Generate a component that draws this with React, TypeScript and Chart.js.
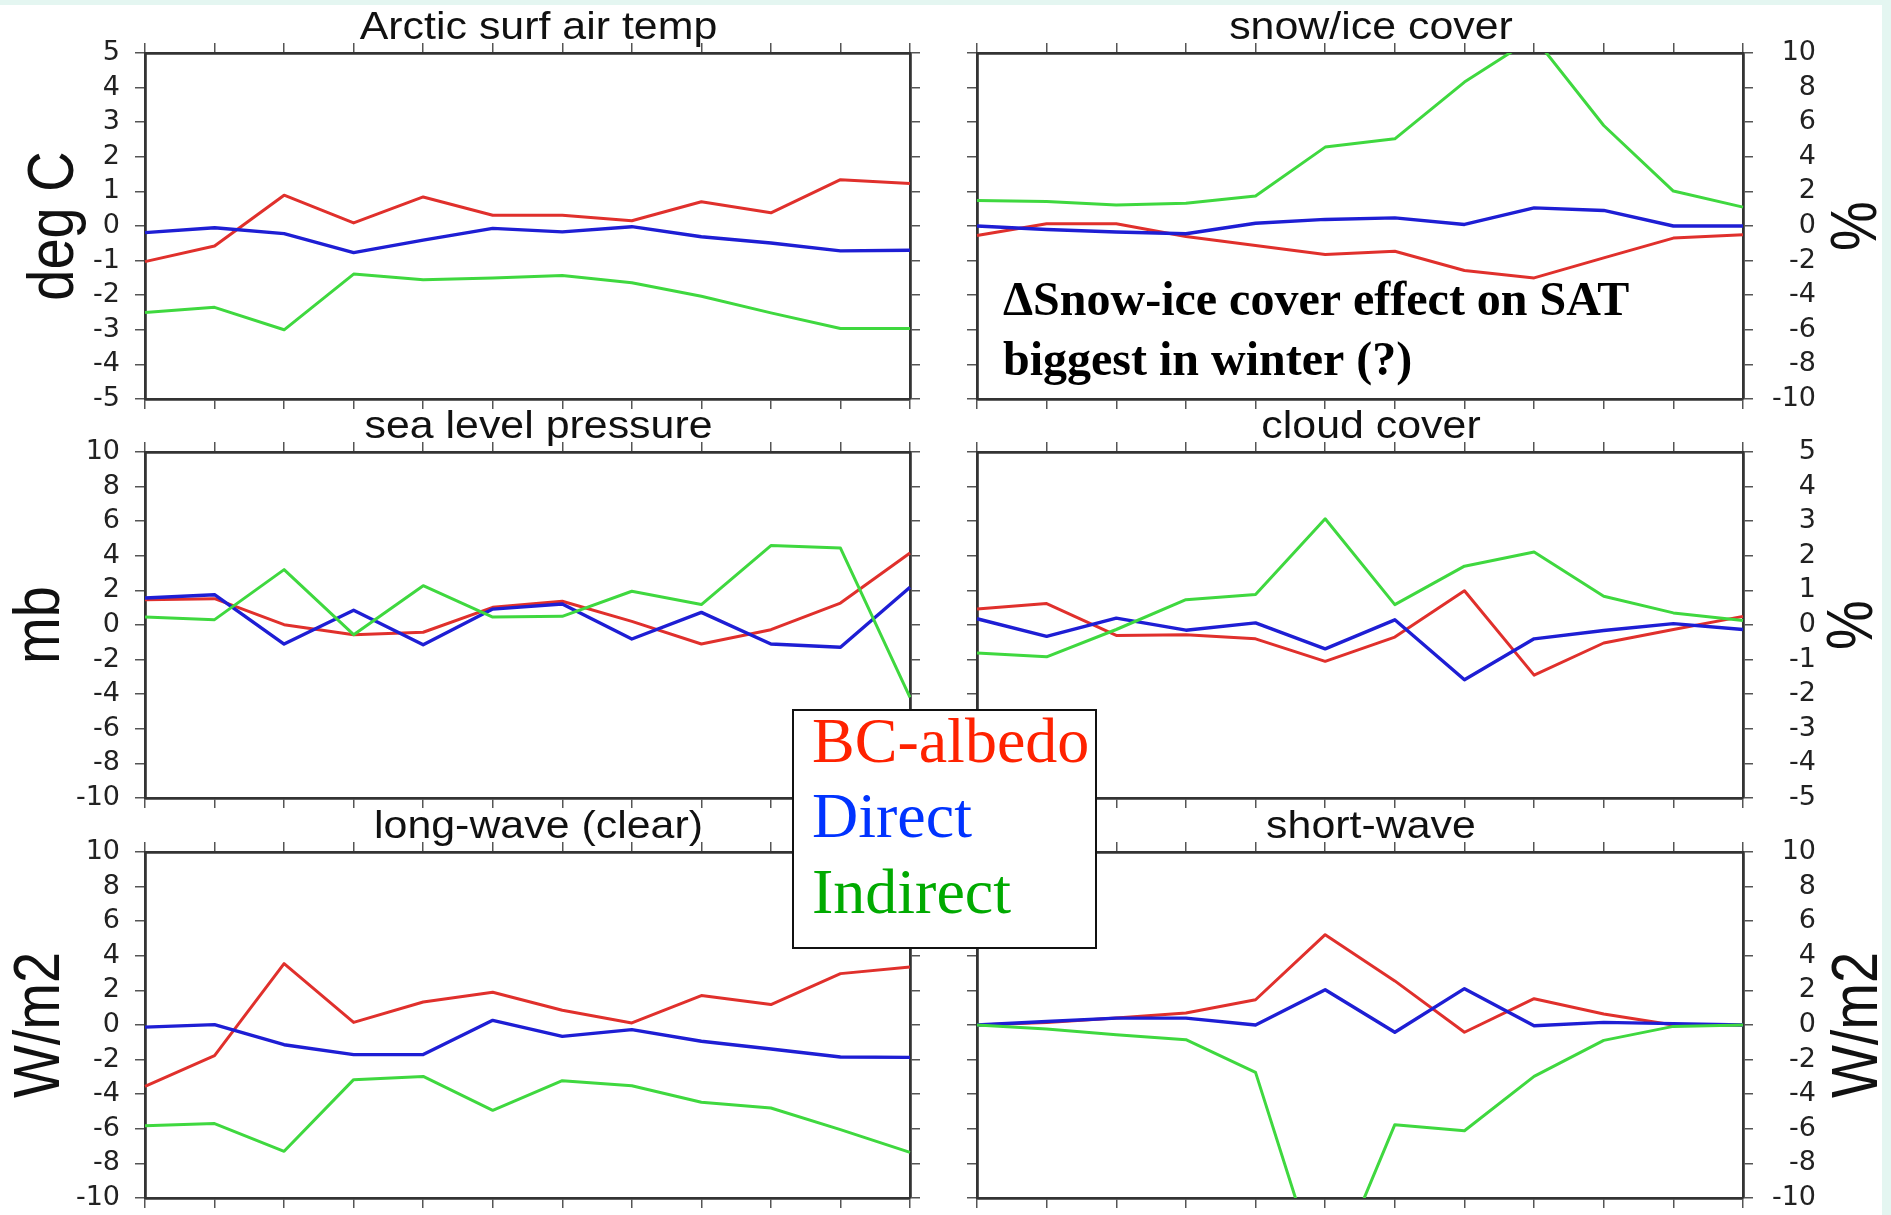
import React, { useEffect, useRef } from 'react';
import { Chart, registerables } from 'chart.js';

Chart.register(...registerables);

// ---- categories (12 time steps, unlabeled in the figure) ----
const months = ['1', '2', '3', '4', '5', '6', '7', '8', '9', '10', '11', '12'];

// ---- Arctic surf air temp (deg C) ----
const airTempAlbedo = [-1.03, -0.58, 0.89, 0.09, 0.84, 0.31, 0.31, 0.15, 0.7, 0.38, 1.34, 1.23];
const airTempDirect = [-0.19, -0.05, -0.22, -0.77, -0.41, -0.07, -0.17, -0.02, -0.31, -0.49, -0.72, -0.7];
const airTempIndirect = [-2.5, -2.35, -3.0, -1.39, -1.55, -1.5, -1.43, -1.64, -2.03, -2.51, -2.96, -2.96];

// ---- snow/ice cover (%) ----
const snowAlbedo = [-0.55, 0.13, 0.13, -0.61, -1.13, -1.65, -1.46, -2.57, -3.0, -1.84, -0.7, -0.51];
const snowDirect = [0.0, -0.2, -0.35, -0.45, 0.16, 0.38, 0.47, 0.09, 1.05, 0.9, 0.0, 0.0];
const snowIndirect = [1.48, 1.42, 1.22, 1.32, 1.73, 4.56, 5.04, 8.32, 10.9, 5.81, 2.02, 1.09];

// ---- sea level pressure (mb) ----
const slpAlbedo = [1.46, 1.52, 0.02, -0.56, -0.42, 1.02, 1.37, 0.21, -1.1, -0.27, 1.27, 4.16];
const slpDirect = [1.56, 1.75, -1.1, 0.85, -1.14, 0.92, 1.21, -0.81, 0.73, -1.1, -1.29, 2.18];
const slpIndirect = [0.46, 0.31, 3.2, -0.56, 2.27, 0.46, 0.5, 1.95, 1.18, 4.59, 4.45, -4.18];

// ---- cloud cover (%) ----
const cloudAlbedo = [0.46, 0.62, -0.3, -0.28, -0.4, -1.05, -0.35, 0.99, -1.45, -0.52, -0.13, 0.25];
const cloudDirect = [0.18, -0.33, 0.2, -0.15, 0.06, -0.69, 0.15, -1.58, -0.4, -0.16, 0.04, -0.13];
const cloudIndirect = [-0.81, -0.92, -0.13, 0.73, 0.88, 3.07, 0.59, 1.7, 2.11, 0.83, 0.35, 0.13];

// ---- long-wave (clear) (W/m2) ----
const lwAlbedo = [-3.55, -1.77, 3.55, 0.15, 1.33, 1.89, 0.85, 0.12, 1.7, 1.18, 2.97, 3.35];
const lwDirect = [-0.12, 0.02, -1.14, -1.71, -1.71, 0.27, -0.66, -0.27, -0.94, -1.39, -1.85, -1.87];
const lwIndirect = [-5.82, -5.7, -7.3, -3.16, -2.97, -4.93, -3.22, -3.51, -4.47, -4.8, -6.05, -7.36];

// ---- short-wave (W/m2) ----
const swAlbedo = [0, 0.15, 0.4, 0.69, 1.46, 5.22, 2.55, -0.42, 1.52, 0.64, 0, 0];
const swDirect = [0, 0.2, 0.4, 0.4, 0, 2.04, -0.42, 2.1, -0.04, 0.15, 0.08, 0];
const swIndirect = [0, -0.23, -0.56, -0.85, -2.74, -15.4, -5.76, -6.11, -2.97, -0.89, -0.08, 0];

// ---- legend / annotation text ----
const seriesNames = ['BC-albedo', 'Direct', 'Indirect'];
const noteLines = ['\u0394Snow-ice cover effect on SAT', 'biggest in winter (?)'];

const RED = '#e0302c';
const BLUE = '#1e1ed4';
const GREEN = '#3fd83f';
const LEGEND_COLORS = ['#ff2200', '#0033ff', '#00aa00'];
const MINT = '#e4f6f1';

type PanelSpec = {
  key: string;
  title: string;
  axisTitle: string;
  side: 'left' | 'right';
  min: number;
  max: number;
  step: number;
  albedo: number[];
  direct: number[];
  indirect: number[];
  left: number;
  top: number;
  width: number;
  height: number;
  padTop: number;
  padBottom: number;
  axisTitleX: number;
  note?: string[];
};

const LEFT_COL = { left: 0, width: 940 };
const RIGHT_COL = { left: 940, width: 951 };
const ROW1 = { top: 0, height: 420, padTop: 53, padBottom: 21 };
const ROW2 = { top: 400, height: 420, padTop: 52, padBottom: 22 };
const ROW3 = { top: 800, height: 415, padTop: 52, padBottom: 17 };

const panels: PanelSpec[] = [
  { key: 'sat', title: 'Arctic surf air temp', axisTitle: 'deg C', side: 'left', min: -5, max: 5, step: 1,
    albedo: airTempAlbedo, direct: airTempDirect, indirect: airTempIndirect, ...LEFT_COL, ...ROW1, axisTitleX: 73 },
  { key: 'snow', title: 'snow/ice cover', axisTitle: '%', side: 'right', min: -10, max: 10, step: 2,
    albedo: snowAlbedo, direct: snowDirect, indirect: snowIndirect, ...RIGHT_COL, ...ROW1, axisTitleX: 936, note: noteLines },
  { key: 'slp', title: 'sea level pressure', axisTitle: 'mb', side: 'left', min: -10, max: 10, step: 2,
    albedo: slpAlbedo, direct: slpDirect, indirect: slpIndirect, ...LEFT_COL, ...ROW2, axisTitleX: 59 },
  { key: 'cloud', title: 'cloud cover', axisTitle: '%', side: 'right', min: -5, max: 5, step: 1,
    albedo: cloudAlbedo, direct: cloudDirect, indirect: cloudIndirect, ...RIGHT_COL, ...ROW2, axisTitleX: 932 },
  { key: 'lw', title: 'long-wave (clear)', axisTitle: 'W/m2', side: 'left', min: -10, max: 10, step: 2,
    albedo: lwAlbedo, direct: lwDirect, indirect: lwIndirect, ...LEFT_COL, ...ROW3, axisTitleX: 59 },
  { key: 'sw', title: 'short-wave', axisTitle: 'W/m2', side: 'right', min: -10, max: 10, step: 2,
    albedo: swAlbedo, direct: swDirect, indirect: swIndirect, ...RIGHT_COL, ...ROW3, axisTitleX: 937 },
];

function textPlugin(p: PanelSpec) {
  return {
    id: 'panelText_' + p.key,
    afterDraw(chart: any) {
      const { ctx, chartArea: a } = chart;
      ctx.save();
      ctx.fillStyle = '#111';
      ctx.textBaseline = 'alphabetic';
      ctx.textAlign = 'center';
      // panel title
      ctx.save();
      ctx.font = '39px "Liberation Sans", Arial, Helvetica, sans-serif';
      ctx.translate((a.left + a.right) / 2 + 11, a.top - 14);
      ctx.scale(1.1, 1);
      ctx.fillText(p.title, 0, 0);
      ctx.restore();
      // axis title (reads bottom to top on both sides)
      ctx.save();
      ctx.font = '56px "Liberation Sans", Arial, Helvetica, sans-serif';
      ctx.translate(p.axisTitleX, (a.top + a.bottom) / 2);
      ctx.scale(1.15, 1);
      ctx.rotate(-Math.PI / 2);
      ctx.fillText(p.axisTitle, 0, 0);
      ctx.restore();
      // annotation
      if (p.note) {
        ctx.save();
        ctx.fillStyle = '#000';
        ctx.textAlign = 'left';
        ctx.font = 'bold 48px "Liberation Serif", "Times New Roman", Times, serif';
        ctx.fillText(p.note[0], 1003 - p.left, 315 - p.top);
        ctx.fillText(p.note[1], 1003 - p.left, 375 - p.top);
        ctx.restore();
      }
      ctx.restore();
    },
  };
}

function buildConfig(p: PanelSpec): any {
  const labeledW = p.side === 'left' ? 145 : 73;
  const mirrorW = p.side === 'left' ? 30 : 37;
  const fixW = (w: number) => (s: any) => {
    s.width = w;
    s.paddingTop = 0; s.paddingBottom = 0; s.paddingLeft = 0; s.paddingRight = 0;
  };
  const fixH = (h: number) => (s: any) => {
    s.height = h;
    s.paddingTop = 0; s.paddingBottom = 0; s.paddingLeft = 0; s.paddingRight = 0;
  };
  const grid = { display: true, drawOnChartArea: false, drawTicks: true, tickLength: 10, color: '#555', lineWidth: 1.5 };
  const border = { display: true, color: '#333', width: 2.8 };
  const line = (label: string, data: number[], color: string, width: number) => ({
    label, data, borderColor: color, backgroundColor: color, borderWidth: width,
    pointRadius: 0, tension: 0, fill: false, yAxisID: 'y', xAxisID: 'x', borderJoinStyle: 'round',
  });
  return {
    type: 'line',
    data: {
      labels: months,
      datasets: [
        line(seriesNames[2], p.indirect, GREEN, 3),
        line(seriesNames[1], p.direct, BLUE, 3.4),
        line(seriesNames[0], p.albedo, RED, 3),
      ],
    },
    options: {
      responsive: false,
      animation: false,
      events: [],
      devicePixelRatio: 1,
      layout: { autoPadding: false, padding: { left: 0, top: 0, bottom: 0, right: p.side === 'right' ? 75 : 0 } },
      plugins: { legend: { display: false }, tooltip: { enabled: false }, title: { display: false } },
      scales: {
        x: {
          type: 'category', position: 'bottom', offset: false,
          ticks: { display: false, autoSkip: false },
          grid, border, afterFit: fixH(p.padBottom),
        },
        x2: {
          type: 'category', position: 'top', offset: false,
          ticks: { display: false, autoSkip: false },
          grid, border, afterFit: fixH(p.padTop),
        },
        y: {
          type: 'linear', position: p.side, min: p.min, max: p.max,
          ticks: {
            stepSize: p.step, autoSkip: false, padding: 15, color: '#222',
            crossAlign: p.side === 'right' ? 'far' : 'near',
            font: { family: '"DejaVu Sans", Arial, sans-serif', size: 27 },
          },
          grid, border, afterFit: fixW(labeledW),
        },
        y2: {
          type: 'linear', position: p.side === 'left' ? 'right' : 'left', min: p.min, max: p.max,
          ticks: { display: false, stepSize: p.step, autoSkip: false },
          grid, border, afterFit: fixW(mirrorW),
        },
      },
    },
    plugins: [textPlugin(p)],
  };
}

export default function App() {
  const refs = useRef<(HTMLCanvasElement | null)[]>([]);

  useEffect(() => {
    document.body.style.margin = '0';
    const charts: Chart[] = [];
    panels.forEach((p, i) => {
      const c = refs.current[i];
      if (c) charts.push(new Chart(c, buildConfig(p)));
    });
    return () => charts.forEach((ch) => ch.destroy());
  }, []);

  return (
    <div style={{ position: 'absolute', left: 0, top: 0, width: 1891, height: 1215, background: '#fff', overflow: 'hidden' }}>
      <div style={{ position: 'absolute', left: 0, top: 0, width: 1891, height: 5, background: MINT }} />
      <div style={{ position: 'absolute', left: 1882, top: 0, width: 9, height: 1215, background: MINT }} />
      {panels.map((p, i) => (
        <canvas
          key={p.key}
          ref={(el) => { refs.current[i] = el; }}
          width={p.width}
          height={p.height}
          style={{ position: 'absolute', left: p.left, top: p.top, width: p.width, height: p.height }}
        />
      ))}
      <div
        style={{
          position: 'absolute', left: 792, top: 709, width: 305, height: 240, boxSizing: 'border-box',
          border: '2px solid #111', background: '#fff', zIndex: 10,
          fontFamily: '"Liberation Serif", "Times New Roman", Times, serif', fontSize: 64, lineHeight: '64px',
        }}
      >
        {seriesNames.map((name, i) => (
          <div key={name} style={{ position: 'absolute', left: 18, top: [-2, 73, 149][i], color: LEGEND_COLORS[i], whiteSpace: 'nowrap' }}>
            {name}
          </div>
        ))}
      </div>
    </div>
  );
}
